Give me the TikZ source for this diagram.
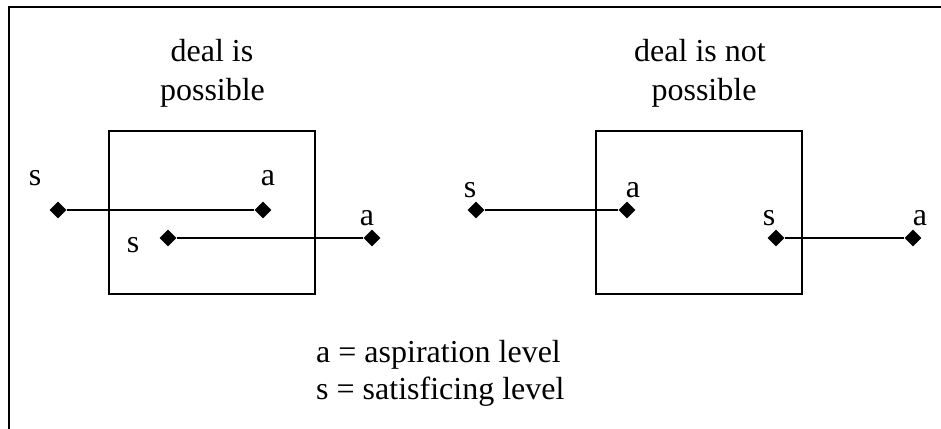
\documentclass[tikz,border=0pt]{standalone}
\usepackage{fontspec}
\setmainfont{Liberation Serif}
\usetikzlibrary{shapes.geometric}
\begin{document}
\begin{tikzpicture}[x=1pt,y=-1pt,
  txt/.style={font=\fontsize{32}{38}\selectfont, inner sep=0pt},
  lbl/.style={txt, anchor=base},
  pt/.style={diamond, fill=black, draw=none, inner sep=0pt, minimum width=17pt, minimum height=17pt},
  bar/.style={line width=1.4pt},
  zone/.style={draw, line width=1.4pt}]
\useasboundingbox (0,0) rectangle (941,428);
\clip (0,0) rectangle (941,428);
\draw[line width=2pt] (9,7) rectangle (960,450);
% titles
\node[lbl] (t1a) at (212,62) {deal is};
\node[lbl] (t1b) at (212.5,100) {possible};
\node[lbl] (t2a) at (700,62) {deal is not};
\node[lbl] (t2b) at (704,100) {possible};
% boxes
\node[zone, minimum width=206pt, minimum height=163pt, inner sep=0pt] (b1) at (212,212.5) {};
\node[zone, minimum width=206pt, minimum height=163pt, inner sep=0pt] (b2) at (699,212.5) {};
% left diagram
\node[pt] (s1) at (58,210) {};
\node[pt] (a1) at (263,210) {};
\node[pt] (s2) at (168,238) {};
\node[pt] (a2) at (372,238) {};
\draw[bar] (s1) -- (a1);
\draw[bar] (s2) -- (a2);
\node[lbl] (ls1) at (35,185) {s};
\node[lbl] (la1) at (268,185) {a};
\node[lbl] (ls2) at (133,252) {s};
\node[lbl] (la2) at (367,225) {a};
% right diagram
\node[pt] (s3) at (476,210) {};
\node[pt] (a3) at (627,210) {};
\node[pt] (s4) at (776,238) {};
\node[pt] (a4) at (913,238) {};
\draw[bar] (s3) -- (a3);
\draw[bar] (s4) -- (a4);
\node[lbl] (ls3) at (470,197) {s};
\node[lbl] (la3) at (633,197) {a};
\node[lbl] (ls4) at (769,225) {s};
\node[lbl] (la4) at (920,225) {a};
% legend
\node[txt, anchor=base west] (k1) at (316,362) {a = aspiration level};
\node[txt, anchor=base west] (k2) at (316,399) {s = satisficing level};
\end{tikzpicture}
\end{document}
